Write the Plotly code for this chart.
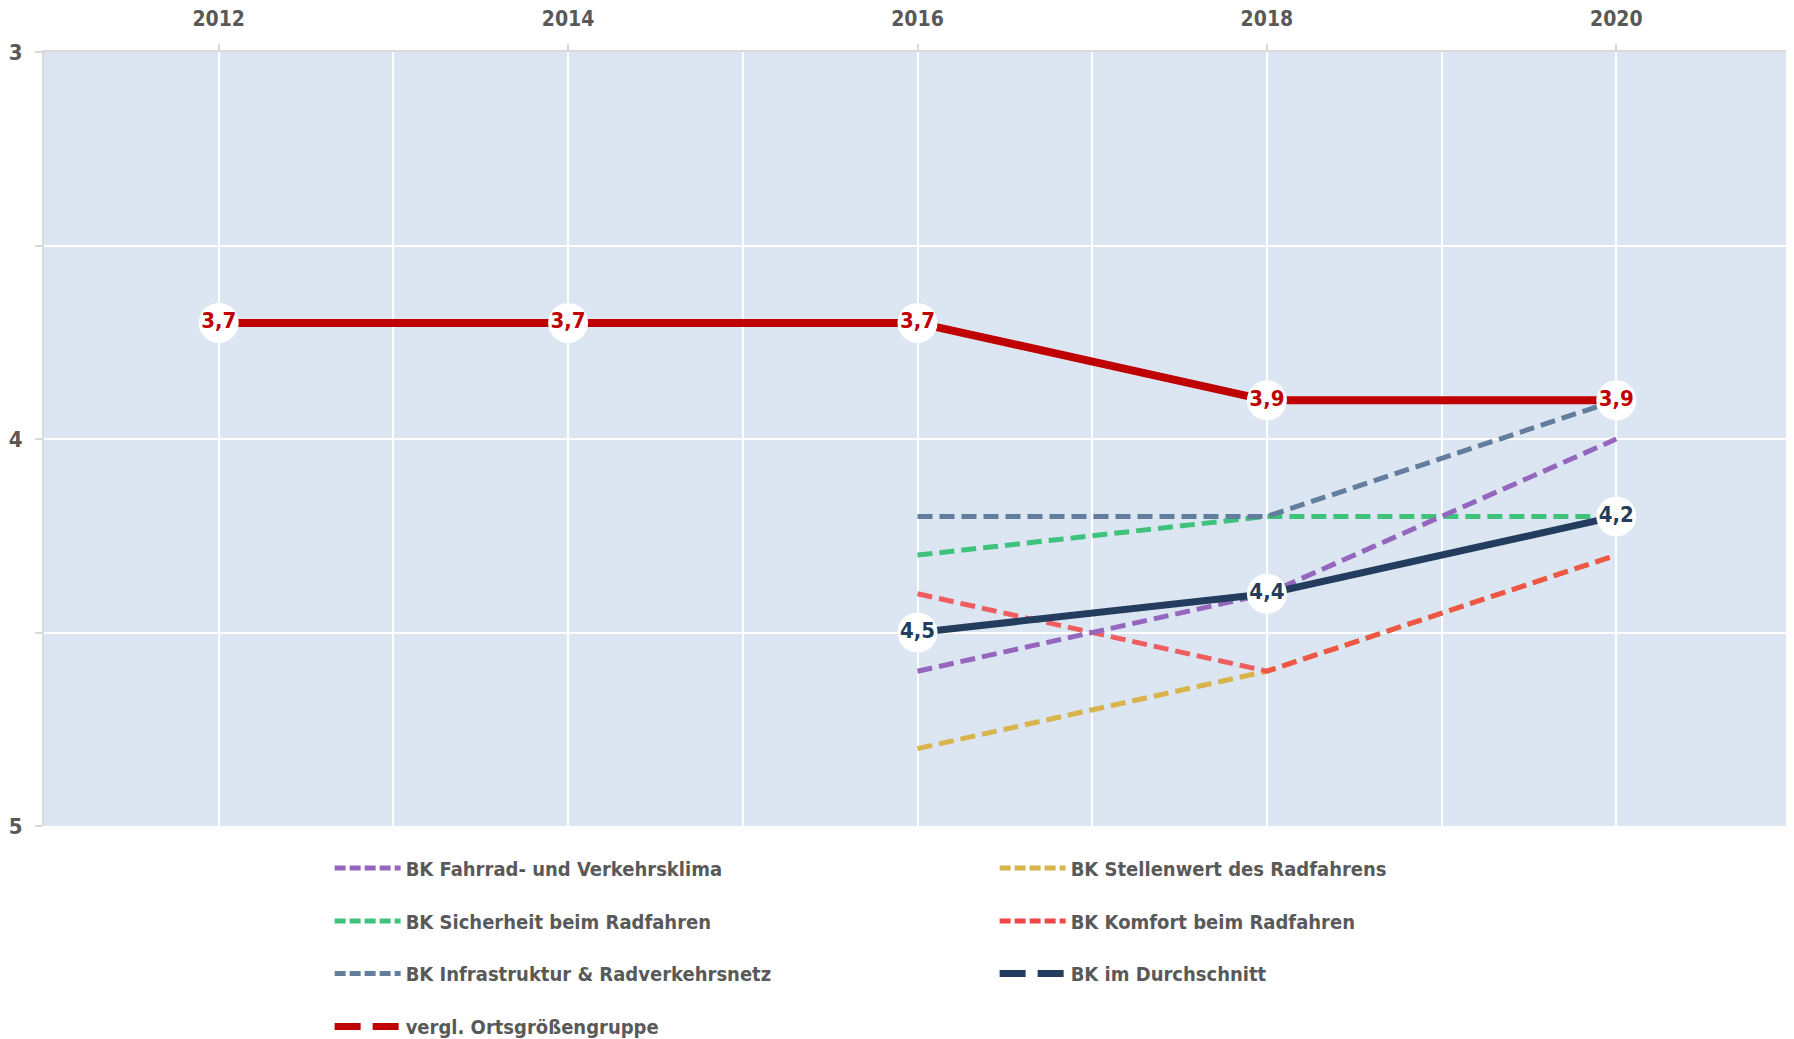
import plotly.graph_objects as go

# ---------------- data ----------------
years_all = [2012, 2014, 2016, 2018, 2020]
years_bk = [2016, 2018, 2020]

vergl_ortsgroesse = [3.7, 3.7, 3.7, 3.9, 3.9]
bk_durchschnitt = [4.5, 4.4, 4.2]
bk_infrastruktur = [4.2, 4.2, 3.9]
bk_sicherheit = [4.3, 4.2, 4.2]
bk_komfort = [4.4, 4.6, 4.3]
bk_klima = [4.6, 4.4, 4.0]
bk_stellenwert = [4.8, 4.6, 4.3]

x_ticks = [2012, 2014, 2016, 2018, 2020]
y_ticks = [3, 3.5, 4, 4.5, 5]
y_ticktext = ["3", "", "4", "", "5"]

names = {
    "klima": "BK Fahrrad- und Verkehrsklima",
    "stellenwert": "BK Stellenwert des Radfahrens",
    "sicherheit": "BK Sicherheit beim Radfahren",
    "komfort": "BK Komfort beim Radfahren",
    "infrastruktur": "BK Infrastruktur & Radverkehrsnetz",
    "durchschnitt": "BK im Durchschnitt",
    "vergl": "vergl. Ortsgrößengruppe",
}
colors = {
    "klima": "#9466bd",
    "stellenwert": "#d9b44a",
    "sicherheit": "#3fc27c",
    "komfort": "#f24646",
    "infrastruktur": "#637d9c",
    "durchschnitt": "#243d5e",
    "vergl": "#c00000",
}

FONT = "DejaVu Sans Condensed"
GREY = "#595959"
DASH = "15px,7px"


def fmt(v):
    return f"{v:.1f}".replace(".", ",")


fig = go.Figure()

# dashed BK series
for key, ys in [("stellenwert", bk_stellenwert), ("komfort", bk_komfort),
                ("sicherheit", bk_sicherheit), ("infrastruktur", bk_infrastruktur),
                ("klima", bk_klima)]:
    fig.add_trace(go.Scatter(
        x=years_bk, y=ys, mode="lines", showlegend=False,
        line=dict(color=colors[key], width=5, dash=DASH),
        opacity=0.85 if key == "komfort" else 1.0,
        hoverinfo="skip",
    ))

# solid labelled series
for key, xs, ys, w in [("durchschnitt", years_bk, bk_durchschnitt, 7),
                       ("vergl", years_all, vergl_ortsgroesse, 8)]:
    fig.add_trace(go.Scatter(
        x=xs, y=ys, mode="lines+markers+text", showlegend=False,
        line=dict(color=colors[key], width=w),
        marker=dict(size=40, color="white", line=dict(width=0)),
        text=[fmt(v) for v in ys], textposition="middle center",
        textfont=dict(family=FONT, size=22, color=colors[key], weight="bold"),
        hoverinfo="skip",
    ))

# legend entries (one legend per row)
legend_rows = [("legend", ["klima", "stellenwert"]),
               ("legend2", ["sicherheit", "komfort"]),
               ("legend3", ["infrastruktur", "durchschnitt"]),
               ("legend4", ["vergl"])]
for lg, keys in legend_rows:
    for key in keys:
        thick = key in ("durchschnitt", "vergl")
        fig.add_trace(go.Scatter(
            x=[None], y=[None], mode="lines", name=names[key], legend=lg,
            line=dict(color=colors[key], width=7 if thick else 5,
                      dash="26px,12px" if thick else "11px,4px"),
        ))

row_y = [-0.0544, -0.1226, -0.1907, -0.2589]
legend_common = dict(orientation="h", x=0.1635, xanchor="left", yanchor="middle",
                     entrywidth=584, entrywidthmode="pixels", itemwidth=66,
                     bgcolor="rgba(0,0,0,0)",
                     font=dict(family=FONT, size=20, color=GREY, weight="bold"))

fig.update_layout(
    width=1794, height=1039,
    margin=dict(l=36, r=11, t=44, b=221, autoexpand=False),
    paper_bgcolor="white",
    plot_bgcolor="#dce6f2",
    font=dict(family=FONT, color=GREY, weight="bold"),
    legend=dict(y=row_y[0], **legend_common),
    legend2=dict(y=row_y[1], **legend_common),
    legend3=dict(y=row_y[2], **legend_common),
    legend4=dict(y=row_y[3], **legend_common),
    xaxis=dict(
        range=[2011, 2021], side="top", automargin=False,
        tickvals=x_ticks, ticktext=[str(v) for v in x_ticks],
        showgrid=True, gridcolor="white", gridwidth=2,
        minor=dict(dtick=1, tick0=2011, showgrid=True, gridcolor="white", gridwidth=2),
        showline=True, linecolor="#d9d9d9", linewidth=2,
        ticks="outside", ticklen=6, tickcolor="#d9d9d9", tickwidth=2,
        tickfont=dict(family=FONT, size=21, color=GREY, weight="bold"),
        ticklabelstandoff=10,
        zeroline=False, fixedrange=True,
    ),
    yaxis=dict(
        range=[5, 3], automargin=False,
        tickvals=y_ticks, ticktext=y_ticktext,
        showgrid=True, gridcolor="white", gridwidth=2,
        showline=True, linecolor="#d9d9d9", linewidth=2,
        ticks="outside", ticklen=7, tickcolor="#d9d9d9", tickwidth=2,
        tickfont=dict(family=FONT, size=22, color=GREY, weight="bold"),
        ticklabelstandoff=8,
        zeroline=False, fixedrange=True,
    ),
)

fig.write_html("out.html")
